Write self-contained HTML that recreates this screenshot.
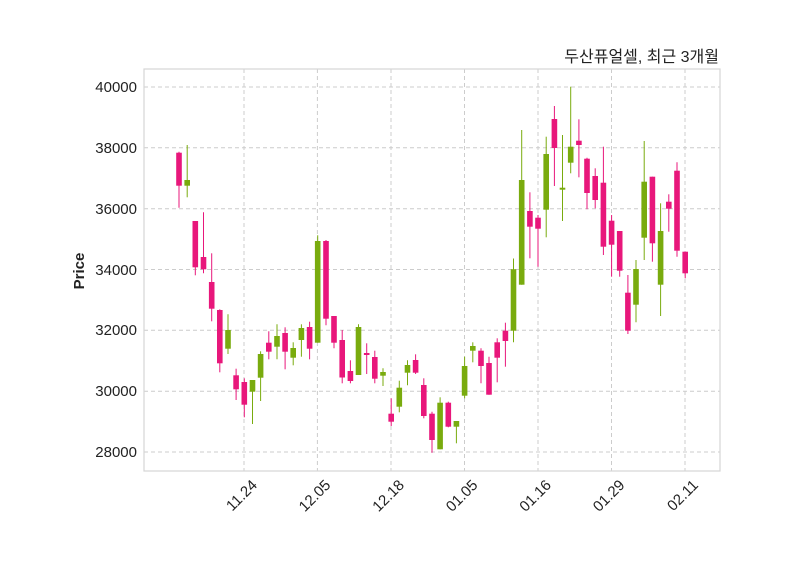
<!DOCTYPE html>
<html><head><meta charset="utf-8"><style>body{margin:0;background:#fff}svg{display:block}</style></head><body>
<svg width="800" height="575" xmlns="http://www.w3.org/2000/svg" font-family="Liberation Sans, sans-serif">
<rect width="800" height="575" fill="#fff"/>
<g stroke="#cccccc" stroke-dasharray="4,3" stroke-width="1">
<line x1="144" x2="720" y1="87" y2="87"/><line x1="144" x2="720" y1="147.8" y2="147.8"/><line x1="144" x2="720" y1="208.7" y2="208.7"/><line x1="144" x2="720" y1="269.5" y2="269.5"/><line x1="144" x2="720" y1="330.3" y2="330.3"/><line x1="144" x2="720" y1="391.2" y2="391.2"/><line x1="144" x2="720" y1="452" y2="452"/>
<line x1="244" x2="244" y1="69" y2="471"/><line x1="317.4" x2="317.4" y1="69" y2="471"/><line x1="391" x2="391" y1="69" y2="471"/><line x1="464.5" x2="464.5" y1="69" y2="471"/><line x1="538" x2="538" y1="69" y2="471"/><line x1="611.5" x2="611.5" y1="69" y2="471"/><line x1="685" x2="685" y1="69" y2="471"/>
</g>
<rect x="144" y="69" width="576" height="402" fill="none" stroke="#d6d6d6" stroke-width="1.2"/>
<g font-size="15" fill="#222" text-anchor="end">
<text x="137" y="92">40000</text><text x="137" y="153">38000</text><text x="137" y="214">36000</text><text x="137" y="275">34000</text><text x="137" y="335">32000</text><text x="137" y="396">30000</text><text x="137" y="457">28000</text>
</g>
<text transform="translate(84,271) rotate(-90)" font-size="15" font-weight="bold" fill="#222" text-anchor="middle">Price</text>
<text x="719" y="62" font-size="16" fill="#222" text-anchor="end" font-family="Liberation Sans, Noto Sans CJK KR, sans-serif">두산퓨얼셀, 최근 3개월</text>
<g font-size="15" fill="#222" text-anchor="end">
<text transform="translate(258,486) rotate(-45)">11.24</text>
<text transform="translate(331.4,486) rotate(-45)">12.05</text>
<text transform="translate(405,486) rotate(-45)">12.18</text>
<text transform="translate(478.5,486) rotate(-45)">01.05</text>
<text transform="translate(552,486) rotate(-45)">01.16</text>
<text transform="translate(625.5,486) rotate(-45)">01.29</text>
<text transform="translate(699,486) rotate(-45)">02.11</text>
</g>
<g id="p" fill="#e8177b" stroke="#e8177b">
<line x1="179" x2="179" y1="151.7" y2="207.7"/><rect x="176.2" y="152.7" width="5.6" height="33" stroke="none"/>
<line x1="195.3" x2="195.3" y1="221" y2="275.3"/><rect x="192.5" y="221" width="5.6" height="46.3" stroke="none"/>
<line x1="203.5" x2="203.5" y1="212.3" y2="273.3"/><rect x="200.7" y="257" width="5.6" height="12.3" stroke="none"/>
<line x1="211.7" x2="211.7" y1="253.3" y2="321.3"/><rect x="208.9" y="282" width="5.6" height="26.7" stroke="none"/>
<line x1="219.8" x2="219.8" y1="309.3" y2="372.3"/><rect x="217" y="310" width="5.6" height="53.3" stroke="none"/>
<line x1="236.1" x2="236.1" y1="368.7" y2="400"/><rect x="233.3" y="375.3" width="5.6" height="14" stroke="none"/>
<line x1="244.3" x2="244.3" y1="378.3" y2="417.3"/><rect x="241.5" y="382" width="5.6" height="22.7" stroke="none"/>
<line x1="268.8" x2="268.8" y1="331.3" y2="359.3"/><rect x="266" y="342.7" width="5.6" height="9" stroke="none"/>
<line x1="285.1" x2="285.1" y1="327.3" y2="369.3"/><rect x="282.3" y="333" width="5.6" height="18.7" stroke="none"/>
<line x1="309.6" x2="309.6" y1="321.7" y2="359.3"/><rect x="306.8" y="327" width="5.6" height="21.7" stroke="none"/>
<line x1="326" x2="326" y1="240" y2="325.3"/><rect x="323.2" y="241" width="5.6" height="77.7" stroke="none"/>
<line x1="334" x2="334" y1="316" y2="348.3"/><rect x="331.2" y="316" width="5.6" height="26.7" stroke="none"/>
<line x1="342.2" x2="342.2" y1="330" y2="383.3"/><rect x="339.4" y="340" width="5.6" height="37.5" stroke="none"/>
<line x1="350.4" x2="350.4" y1="360.3" y2="383.3"/><rect x="347.6" y="371" width="5.6" height="10" stroke="none"/>
<line x1="366.7" x2="366.7" y1="343.3" y2="374"/><rect x="363.9" y="353" width="5.6" height="2" stroke="none"/>
<line x1="374.8" x2="374.8" y1="350.7" y2="383.3"/><rect x="372" y="357" width="5.6" height="21.7" stroke="none"/>
<line x1="391.2" x2="391.2" y1="398.3" y2="426"/><rect x="388.4" y="413.7" width="5.6" height="8" stroke="none"/>
<line x1="415.6" x2="415.6" y1="354.3" y2="374"/><rect x="412.8" y="360" width="5.6" height="12.7" stroke="none"/>
<line x1="423.8" x2="423.8" y1="378.3" y2="418.3"/><rect x="421" y="385" width="5.6" height="31" stroke="none"/>
<line x1="432" x2="432" y1="411.7" y2="452.7"/><rect x="429.2" y="413.7" width="5.6" height="26.3" stroke="none"/>
<line x1="448.3" x2="448.3" y1="401.7" y2="427.3"/><rect x="445.5" y="402.7" width="5.6" height="24" stroke="none"/>
<line x1="481" x2="481" y1="348.3" y2="383.3"/><rect x="478.2" y="350.7" width="5.6" height="15.3" stroke="none"/>
<line x1="489" x2="489" y1="356.7" y2="394.7"/><rect x="486.2" y="363" width="5.6" height="31.7" stroke="none"/>
<line x1="497.2" x2="497.2" y1="338.3" y2="382.3"/><rect x="494.4" y="342.3" width="5.6" height="15.4" stroke="none"/>
<line x1="505.4" x2="505.4" y1="322.7" y2="366.7"/><rect x="502.6" y="330.7" width="5.6" height="10.3" stroke="none"/>
<line x1="529.9" x2="529.9" y1="192.3" y2="258.3"/><rect x="527.1" y="211" width="5.6" height="15.7" stroke="none"/>
<line x1="538" x2="538" y1="215" y2="266.7"/><rect x="535.2" y="217.7" width="5.6" height="11" stroke="none"/>
<line x1="554.4" x2="554.4" y1="106" y2="186"/><rect x="551.6" y="119" width="5.6" height="29" stroke="none"/>
<line x1="578.9" x2="578.9" y1="119.3" y2="177.3"/><rect x="576.1" y="140.7" width="5.6" height="4.3" stroke="none"/>
<line x1="587" x2="587" y1="157.7" y2="209.3"/><rect x="584.2" y="158.7" width="5.6" height="34.3" stroke="none"/>
<line x1="595.2" x2="595.2" y1="168.3" y2="208.3"/><rect x="592.4" y="176" width="5.6" height="24" stroke="none"/>
<line x1="603.4" x2="603.4" y1="146.7" y2="255"/><rect x="600.6" y="182.7" width="5.6" height="64" stroke="none"/>
<line x1="611.6" x2="611.6" y1="215" y2="276.7"/><rect x="608.8" y="220.7" width="5.6" height="24" stroke="none"/>
<line x1="619.7" x2="619.7" y1="231" y2="276.7"/><rect x="616.9" y="231" width="5.6" height="39.7" stroke="none"/>
<line x1="627.9" x2="627.9" y1="275" y2="334"/><rect x="625.1" y="292.7" width="5.6" height="38" stroke="none"/>
<line x1="652.4" x2="652.4" y1="176.7" y2="261.7"/><rect x="649.6" y="176.7" width="5.6" height="66.6" stroke="none"/>
<line x1="668.8" x2="668.8" y1="194.3" y2="231.7"/><rect x="666" y="201.7" width="5.6" height="7" stroke="none"/>
<line x1="677" x2="677" y1="162.3" y2="256.7"/><rect x="674.2" y="170.7" width="5.6" height="80" stroke="none"/>
<line x1="685.2" x2="685.2" y1="251.7" y2="278.3"/><rect x="682.4" y="251.7" width="5.6" height="21.6" stroke="none"/>
</g>
<g fill="#79ab0e" stroke="#79ab0e">
<line x1="187.2" x2="187.2" y1="145" y2="197.3"/><rect x="184.4" y="180" width="5.6" height="5.7" stroke="none"/>
<line x1="228" x2="228" y1="314.3" y2="354"/><rect x="225.2" y="330" width="5.6" height="18.7" stroke="none"/>
<line x1="252.5" x2="252.5" y1="380" y2="424"/><rect x="249.7" y="380" width="5.6" height="11.7" stroke="none"/>
<line x1="260.6" x2="260.6" y1="351.3" y2="401"/><rect x="257.8" y="354" width="5.6" height="23.7" stroke="none"/>
<line x1="277" x2="277" y1="324.3" y2="359.3"/><rect x="274.2" y="336" width="5.6" height="10.7" stroke="none"/>
<line x1="293.2" x2="293.2" y1="342.3" y2="365.3"/><rect x="290.4" y="348" width="5.6" height="9.7" stroke="none"/>
<line x1="301.4" x2="301.4" y1="324.3" y2="356.7"/><rect x="298.6" y="328" width="5.6" height="12" stroke="none"/>
<line x1="317.7" x2="317.7" y1="235.3" y2="342.7"/><rect x="314.9" y="241" width="5.6" height="101.7" stroke="none"/>
<line x1="358.5" x2="358.5" y1="324.3" y2="375"/><rect x="355.7" y="327" width="5.6" height="48" stroke="none"/>
<line x1="383" x2="383" y1="368.3" y2="386"/><rect x="380.2" y="372" width="5.6" height="3.7" stroke="none"/>
<line x1="399.3" x2="399.3" y1="380.7" y2="412.3"/><rect x="396.5" y="387.7" width="5.6" height="19" stroke="none"/>
<line x1="407.5" x2="407.5" y1="360.3" y2="385.3"/><rect x="404.7" y="365" width="5.6" height="7.7" stroke="none"/>
<line x1="440.1" x2="440.1" y1="397.3" y2="449.3"/><rect x="437.3" y="402.7" width="5.6" height="46.6" stroke="none"/>
<line x1="456.4" x2="456.4" y1="421" y2="443.3"/><rect x="453.6" y="421" width="5.6" height="5.7" stroke="none"/>
<line x1="464.6" x2="464.6" y1="356.7" y2="398.3"/><rect x="461.8" y="366" width="5.6" height="29.7" stroke="none"/>
<line x1="472.8" x2="472.8" y1="342.3" y2="362.3"/><rect x="470" y="346" width="5.6" height="4.7" stroke="none"/>
<line x1="513.5" x2="513.5" y1="258.5" y2="342.3"/><rect x="510.7" y="269.2" width="5.6" height="61.5" stroke="none"/>
<line x1="521.7" x2="521.7" y1="130" y2="284.7"/><rect x="518.9" y="180" width="5.6" height="104.7" stroke="none"/>
<line x1="546.2" x2="546.2" y1="136.7" y2="237.3"/><rect x="543.4" y="154" width="5.6" height="55.7" stroke="none"/>
<line x1="562.5" x2="562.5" y1="135" y2="221"/><rect x="559.7" y="187.7" width="5.6" height="2" stroke="none"/>
<line x1="570.7" x2="570.7" y1="86.7" y2="173.3"/><rect x="567.9" y="146.7" width="5.6" height="16" stroke="none"/>
<line x1="636" x2="636" y1="260" y2="322.3"/><rect x="633.2" y="269" width="5.6" height="35.7" stroke="none"/>
<line x1="644.2" x2="644.2" y1="141" y2="260"/><rect x="641.4" y="181.7" width="5.6" height="56" stroke="none"/>
<line x1="660.6" x2="660.6" y1="203.3" y2="316"/><rect x="657.8" y="231" width="5.6" height="53.7" stroke="none"/>
</g>
</svg>
</body></html>
